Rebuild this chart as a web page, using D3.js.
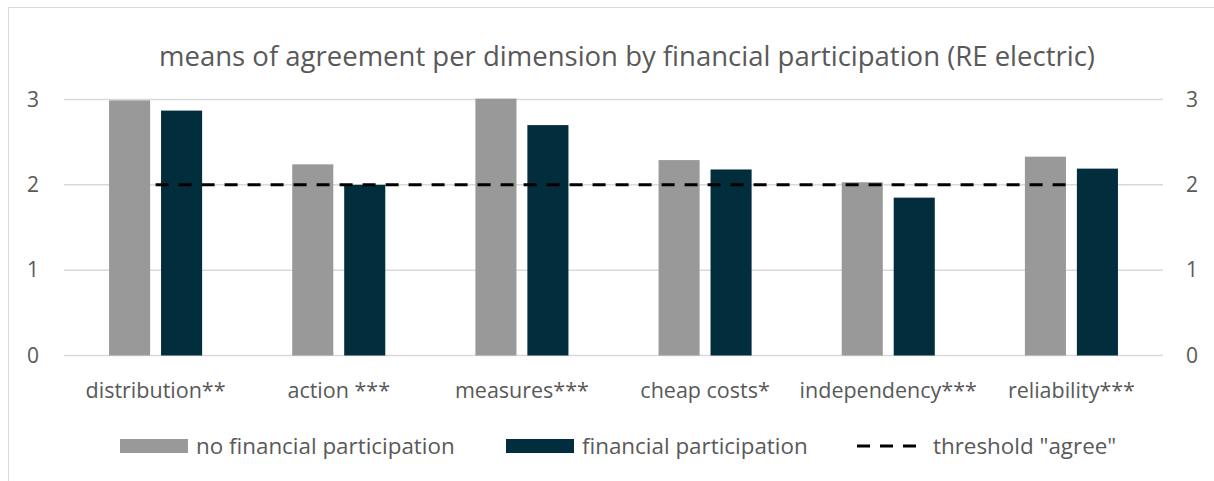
<!DOCTYPE html>
<html>
<head>
<meta charset="utf-8">
<script src="https://cdn.jsdelivr.net/npm/d3@7"></script>
<style>
  body { margin: 0; background: #fff; }
  svg { display: block; font-family: "Open Sans", "Noto Sans", sans-serif; }
</style>
</head>
<body>
<svg width="1214" height="481"></svg>
<script>
// data
var categories = ["distribution**", "action ***", "measures***", "cheap costs*", "independency***", "reliability***"];
var seriesNames = ["no financial participation", "financial participation"];
var noFinancial = [2.99, 2.24, 3.01, 2.29, 2.03, 2.33];
var financial = [2.87, 2.00, 2.70, 2.18, 1.85, 2.19];
var threshold = 2;
var yTicks = [0, 1, 2, 3];
var thresholdLabel = 'threshold "agree"';
var title = "means of agreement per dimension by financial participation (RE electric)";

var svg = d3.select("svg"),
    width = +svg.attr("width"),
    height = +svg.attr("height");

var textColor = "#595959";
var colors = ["#999999", "#022d3d"];

// chart frame
svg.append("rect")
  .attr("x", 8.5).attr("y", 7.5)
  .attr("width", width + 20).attr("height", height + 20)
  .attr("fill", "none")
  .attr("stroke", "#d9d9d9");

var plotLeft = 64, plotRight = 1163, plotTop = 99.5, plotBottom = 355.5;

var y = d3.scaleLinear().domain([0, 3]).range([plotBottom, plotTop]);
var x0 = d3.scaleBand().domain(categories).range([plotLeft, plotRight]);
var groupW = x0.bandwidth() * 0.508;
var x1 = d3.scaleBand().domain(seriesNames)
  .range([(x0.bandwidth() - groupW) / 2, (x0.bandwidth() + groupW) / 2])
  .paddingInner(0.21);

// gridlines
svg.append("g")
  .selectAll("line")
  .data(yTicks)
  .enter().append("line")
  .attr("x1", plotLeft).attr("x2", plotRight)
  .attr("y1", function(d) { return y(d); })
  .attr("y2", function(d) { return y(d); })
  .attr("stroke", "#d9d9d9")
  .attr("stroke-width", 1.5);

// left + right tick labels
var leftAxis = d3.axisLeft(y).tickValues(yTicks).tickFormat(d3.format("d")).tickSize(0).tickPadding(0);
svg.append("g")
  .attr("transform", "translate(39,0)")
  .call(leftAxis)
  .call(function(g) { g.select(".domain").remove(); })
  .selectAll("text")
  .attr("fill", textColor)
  .style("font-size", "21px")
  .style("font-family", "'Open Sans', sans-serif");

var rightAxis = d3.axisRight(y).tickValues(yTicks).tickFormat(d3.format("d")).tickSize(0).tickPadding(0);
svg.append("g")
  .attr("transform", "translate(1186,0)")
  .call(rightAxis)
  .call(function(g) { g.select(".domain").remove(); })
  .selectAll("text")
  .attr("fill", textColor)
  .style("font-size", "21px")
  .style("font-family", "'Open Sans', sans-serif");

// bars
var rows = categories.map(function(c, i) {
  return { cat: c, values: [
    { s: seriesNames[0], v: noFinancial[i] },
    { s: seriesNames[1], v: financial[i] }
  ]};
});

var group = svg.append("g")
  .selectAll("g")
  .data(rows)
  .enter().append("g")
  .attr("transform", function(d) { return "translate(" + x0(d.cat) + ",0)"; });

group.selectAll("rect")
  .data(function(d) { return d.values; })
  .enter().append("rect")
  .attr("x", function(d) { return x1(d.s); })
  .attr("width", x1.bandwidth())
  .attr("y", function(d) { return y(d.v); })
  .attr("height", function(d) { return y(0) - y(d.v); })
  .attr("fill", function(d, i) { return colors[i]; });

// threshold line from first to last category centre
svg.append("line")
  .attr("x1", x0(categories[0]) + x0.bandwidth() / 2)
  .attr("x2", x0(categories[categories.length - 1]) + x0.bandwidth() / 2)
  .attr("y1", y(threshold)).attr("y2", y(threshold))
  .attr("stroke", "#000")
  .attr("stroke-width", 3)
  .attr("stroke-dasharray", "13,10");

// category labels
svg.append("g")
  .selectAll("text")
  .data(categories)
  .enter().append("text")
  .attr("x", function(d) { return x0(d) + x0.bandwidth() / 2; })
  .attr("y", 398)
  .attr("text-anchor", "middle")
  .attr("fill", textColor)
  .style("font-size", "21.5px")
  .text(function(d) { return d; });

// title
svg.append("text")
  .attr("x", 627).attr("y", 66)
  .attr("text-anchor", "middle")
  .attr("fill", textColor)
  .style("font-size", "27.5px")
  .text(title);

// legend
var legendY = 446;
var legend = svg.append("g");
[120, 506].forEach(function(lx, i) {
  legend.append("rect")
    .attr("x", lx).attr("y", legendY - 7)
    .attr("width", 68).attr("height", 14)
    .attr("fill", colors[i]);
  legend.append("text")
    .attr("x", lx + 76).attr("y", legendY)
    .attr("dy", "0.35em")
    .attr("fill", textColor)
    .style("font-size", "22.4px")
    .text(seriesNames[i]);
});
legend.append("line")
  .attr("x1", 857).attr("x2", 917)
  .attr("y1", legendY).attr("y2", legendY)
  .attr("stroke", "#000")
  .attr("stroke-width", 3)
  .attr("stroke-dasharray", "13,10");
legend.append("text")
  .attr("x", 933).attr("y", legendY)
  .attr("dy", "0.35em")
  .attr("fill", textColor)
  .style("font-size", "22.4px")
  .text(thresholdLabel);
</script>
</body>
</html>
